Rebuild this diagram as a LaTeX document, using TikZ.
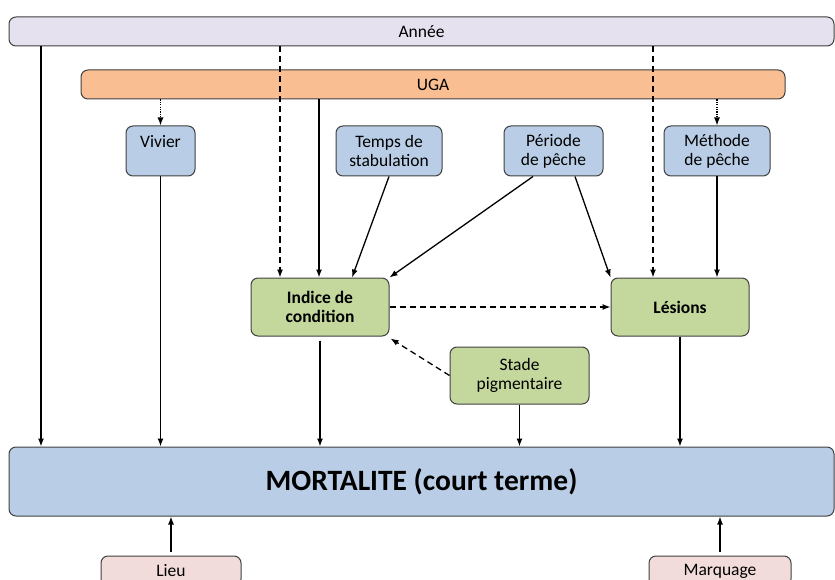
\documentclass[tikz,border=0pt]{standalone}
\usepackage{fontspec}
\setmainfont{Carlito}
\usetikzlibrary{arrows.meta}

\definecolor{anneefill}{HTML}{E6E1EE}
\definecolor{ugafill}{HTML}{F9BE91}
\definecolor{bleufill}{HTML}{B9CEE6}
\definecolor{vertfill}{HTML}{C4D89E}
\definecolor{rosefill}{HTML}{F2DCDB}

\tikzset{
  boite/.style={draw=black!75, line width=1pt, rounded corners=7pt, align=center,
    inner sep=0pt, font=\fontsize{17.5}{19}\selectfont},
  fleche/.style={-{Latex[length=8pt,width=6pt]}, line width=1.3pt},
  tirets/.style={fleche, dash pattern=on 6pt off 4pt},
  pointille/.style={fleche, line width=1.1pt, dash pattern=on 1.2pt off 1.2pt},
}

\begin{document}
\begin{tikzpicture}[x=1pt, y=-1pt]

		\useasboundingbox (0,0) rectangle (835,580);
		\clip (0,0) rectangle (835,580);

		% bandeaux
		\node[boite, fill=anneefill, minimum width=825pt, minimum height=29pt] (annee) at (421.5, 31.5) {Année};
		\node[boite, fill=ugafill, minimum width=704pt, minimum height=29pt] (uga) at (433, 84.5) {UGA};

		% facteurs
		\node[boite, fill=bleufill, minimum width=69pt, minimum height=50pt] (vivier) at (160.5, 151) {Vivier\\~};
		\node[boite, fill=bleufill, minimum width=106pt, minimum height=50pt] (temps) at (389, 151) {Temps de\\stabulation};
		\node[boite, fill=bleufill, minimum width=99pt, minimum height=50pt] (periode) at (553.5, 151) {Période\\de pêche};
		\node[boite, fill=bleufill, minimum width=106pt, minimum height=50pt] (methode) at (717, 151) {Méthode\\de pêche};

		\node[boite, fill=vertfill, minimum width=138pt, minimum height=58pt, font=\fontsize{17.5}{19}\selectfont\bfseries] (indice) at (320, 307) {Indice de\\condition};
		\node[boite, fill=vertfill, minimum width=138pt, minimum height=58pt, font=\fontsize{17.5}{19}\selectfont\bfseries] (lesions) at (680, 307) {Lésions};
		\node[boite, fill=vertfill, minimum width=139pt, minimum height=57pt] (stade) at (519.5, 375.5) {Stade\\pigmentaire};

		\node[boite, fill=bleufill, minimum width=825pt, minimum height=69pt, font=\fontsize{29.5}{33}\selectfont\bfseries] (mort) at (421.5, 481.5) {MORTALITE (court terme)};

		\node[boite, fill=rosefill, minimum width=140pt, minimum height=30pt] (lieu) at (171, 571) {Lieu};
		\node[boite, fill=rosefill, minimum width=142pt, minimum height=30pt] (marquage) at (720, 571) {Marquage};

		% abscisses des liens
		\coordinate (xa) at (41, 0);
		\coordinate (xb) at (280, 0);
		\coordinate (xc) at (319, 0);
		\coordinate (xd) at (653, 0);
		\coordinate (xe) at (352, 0);
		\coordinate (xf) at (533, 0);
		\coordinate (xg) at (575, 0);

		\draw[fleche] (annee.south -| xa) -- (mort.north -| xa);
		\draw[tirets] (annee.south -| xb) -- (indice.north -| xb);
		\draw[tirets] (annee.south -| xd) -- (lesions.north -| xd);
		\draw[pointille] (uga.south -| vivier) -- (vivier.north);
		\draw[pointille] (uga.south -| methode) -- (methode.north);
		\draw[fleche] (uga.south -| xc) -- (indice.north -| xc);

		\draw[fleche] (temps.south) -- (indice.north -| xe);
		\draw[fleche] (periode.south -| xf) -- (indice.north east);
		\draw[fleche] (periode.south -| xg) -- (lesions.north west);
		\draw[fleche] (methode.south) -- (lesions.north -| methode);

		\draw[tirets] (indice.east) -- (lesions.west);
		\draw[tirets] (stade.west) -- ([shift={(1pt,-2pt)}]indice.south east);

		\draw[fleche] ([yshift=-4pt]indice.south) -- (mort.north -| indice);
		\draw[fleche] (vivier.south) -- (mort.north -| vivier);
		\draw[fleche] (stade.south) -- (mort.north -| stade);
		\draw[fleche] (lesions.south) -- (mort.north -| lesions);
		\draw[fleche] ([yshift=4pt]lieu.north) -- (mort.south -| lieu);
		\draw[fleche] ([yshift=4pt]marquage.north) -- (mort.south -| marquage);

\end{tikzpicture}
\end{document}
